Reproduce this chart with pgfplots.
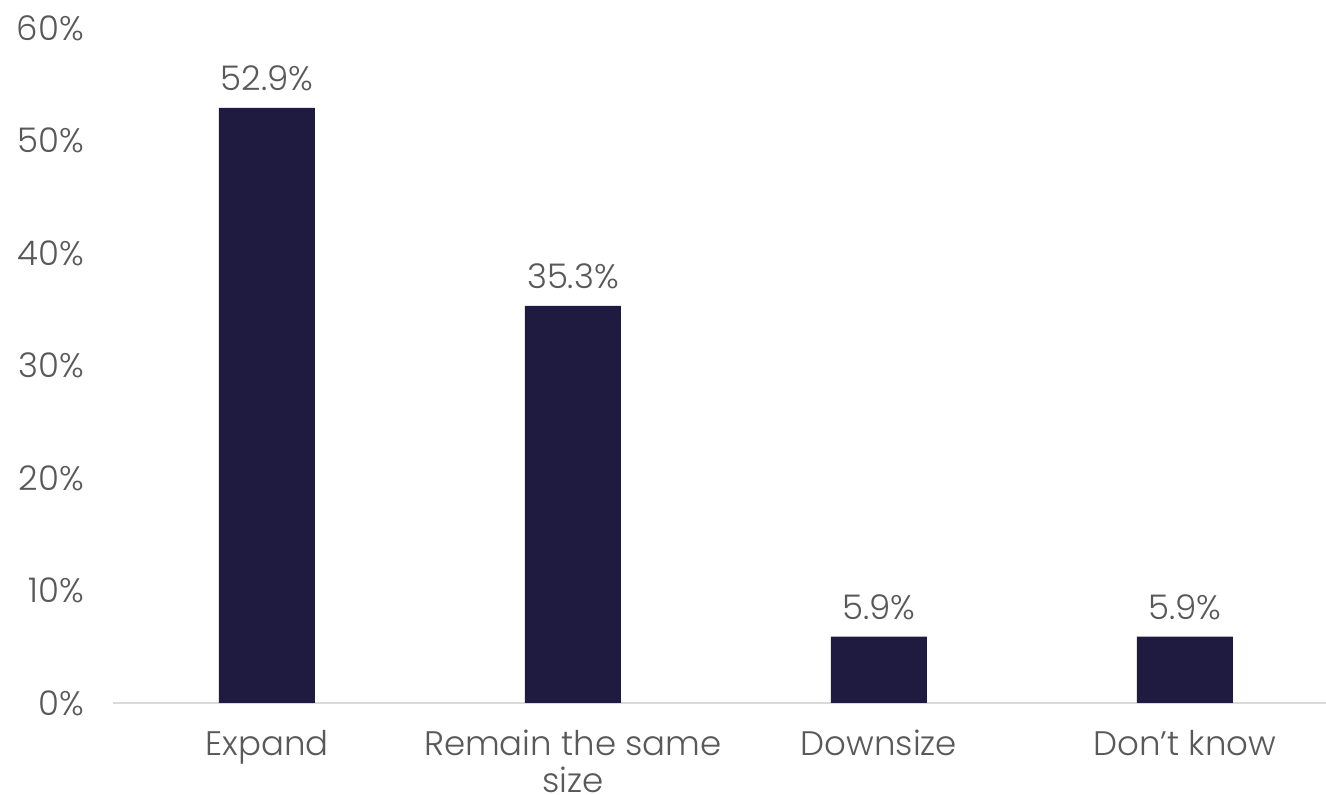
\documentclass[border=0pt]{standalone}
\usepackage{fontspec}
\setmainfont{Poppins Light}
\usepackage{pgfplots}
\pgfplotsset{compat=1.18}
\definecolor{barc}{HTML}{1F1A40}
\definecolor{txt}{HTML}{595959}
\definecolor{axl}{HTML}{D9D9D9}
\begin{document}
\begin{tikzpicture}
\useasboundingbox (0,0) rectangle (663pt,397.5pt);
\begin{axis}[
  at={(56.5pt,46pt)}, anchor=south west,
  scale only axis, width=606.5pt, height=337.5pt,
  xmin=-0.503, xmax=3.461, ymin=0, ymax=60,
  ybar, bar width=48pt,
  axis x line*=bottom, axis y line*=left,
  x axis line style={draw=axl, line width=1pt, -},
  y axis line style={draw=none},
  major tick length=0pt,
  xtick={0,1,2,3},
  xticklabels={Expand, Remain the same\\size, Downsize, Don’t know},
  ytick={0,10,20,30,40,50,60},
  yticklabel={\pgfmathprintnumber{\tick}\%},
  /pgf/number format/assume math mode=true,
  ticklabel style={font=\fontsize{17}{18.5}\selectfont, text=txt},
  xticklabel style={align=center, anchor=north, yshift=-12.5pt, inner sep=1pt},
  yticklabel style={anchor=east, xshift=-11pt},
  nodes near coords={\pgfmathprintnumber[fixed,fixed zerofill,precision=1]{\pgfplotspointmeta}\%},
  every node near coord/.append style={font=\fontsize{17}{19}\selectfont, text=txt, anchor=south, yshift=5pt},
  clip=false,
]
\addplot[fill=barc, draw=none] coordinates {(0,52.9) (1,35.3) (2,5.9) (3,5.9)};
\end{axis}
\end{tikzpicture}
\end{document}
